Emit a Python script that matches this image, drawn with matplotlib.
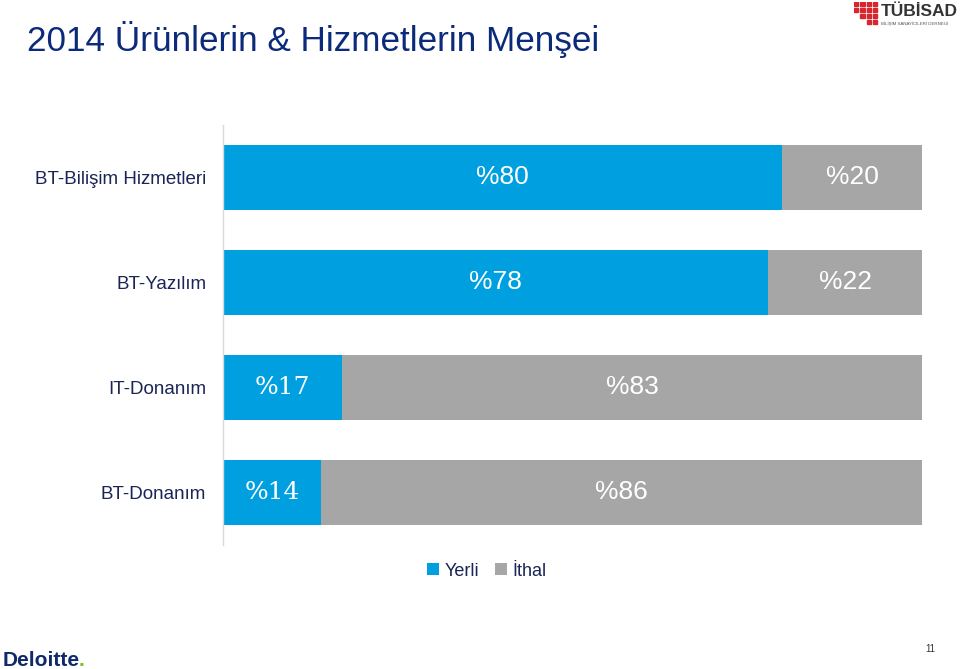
import numpy as np
import matplotlib.pyplot as plt
from matplotlib.patches import Rectangle

plt.rcParams['font.family'] = ['Liberation Sans', 'DejaVu Sans']

categories = ['BT-Bilişim Hizmetleri', 'BT-Yazılım', 'IT-Donanım', 'BT-Donanım']
yerli = [80, 78, 17, 14]
ithal = [20, 22, 83, 86]
series_names = ['Yerli', 'İthal']

blue = '#00A0E0'
gray = '#A6A6A6'
navy = '#0B2A7A'

fig = plt.figure(figsize=(9.6, 6.69), dpi=100)
ax = fig.add_axes([223 / 960, 1 - 545 / 669, 699 / 960, 420 / 669])

y = np.arange(len(categories))
b1 = ax.barh(y, yerli, height=0.62, color=blue, label=series_names[0])
b2 = ax.barh(y, ithal, left=yerli, height=0.62, color=gray, label=series_names[1])

for i, (a, b) in enumerate(zip(yerli, ithal)):
    if a < 50:
        ax.text(a / 2, i, '%' + str(a), ha='center', va='center', color='white',
                fontsize=18, family=['DejaVu Serif'])
    else:
        ax.text(a / 2, i, '%' + str(a), ha='center', va='center', color='white', fontsize=19)
    ax.text(a + b / 2, i, '%' + str(b), ha='center', va='center', color='white', fontsize=19)

ax.set_xlim(0, 100)
ax.set_ylim(len(categories) - 0.5, -0.5)
ax.set_yticks(y)
ax.set_yticklabels(categories, fontsize=13.5, color='#1A2456')
ax.tick_params(axis='y', length=0, pad=12)
ax.set_xticks([])
for s in ['top', 'right', 'bottom']:
    ax.spines[s].set_visible(False)
ax.spines['left'].set_color('#D9D9D9')
ax.spines['left'].set_linewidth(1)

leg = fig.legend(handles=[b1, b2], loc='center', bbox_to_anchor=(487 / 960, 1 - 571 / 669),
                 ncol=2, frameon=False, fontsize=13, handlelength=0.65, handleheight=0.65,
                 handletextpad=0.3, columnspacing=0.9)
for t in leg.get_texts():
    t.set_color('#1A2456')

fig.text(27 / 960, 1 - 40 / 669, '2014 Ürünlerin & Hizmetlerin Menşei', fontsize=25.3,
         color=navy, va='center', ha='left')

# TÜBİSAD logo
logo = fig.add_axes([854 / 960, 1 - 26 / 669, 25 / 960, 24 / 669])
for r in range(4):
    for c in range(4):
        if c - r >= -1:
            logo.add_patch(Rectangle((c, r), 0.7, 0.7, color='#D7262D'))
logo.set_xlim(0, 4)
logo.set_ylim(4, 0)
logo.axis('off')
fig.text(881 / 960, 1 - 12 / 669, 'TÜBİSAD', fontsize=12.5, fontweight='bold',
         color='#333333', va='center', ha='left')
fig.text(881 / 960, 1 - 24 / 669, 'BİLİŞİM SANAYİCİLERİ DERNEĞİ', fontsize=3.2,
         color='#555555', va='center', ha='left')

# Deloitte
fig.text(3 / 960, 1 - 660 / 669, 'Deloitte', fontsize=15, fontweight='bold',
         color='#0F2A6B', va='center', ha='left')
fig.text(79 / 960, 1 - 660 / 669, '.', fontsize=15, fontweight='bold',
         color='#86BC25', va='center', ha='left')

fig.text(930 / 960, 1 - 649 / 669, '11', fontsize=7, color='#333333', va='center', ha='center')

fig.savefig('out.png', dpi=100)
